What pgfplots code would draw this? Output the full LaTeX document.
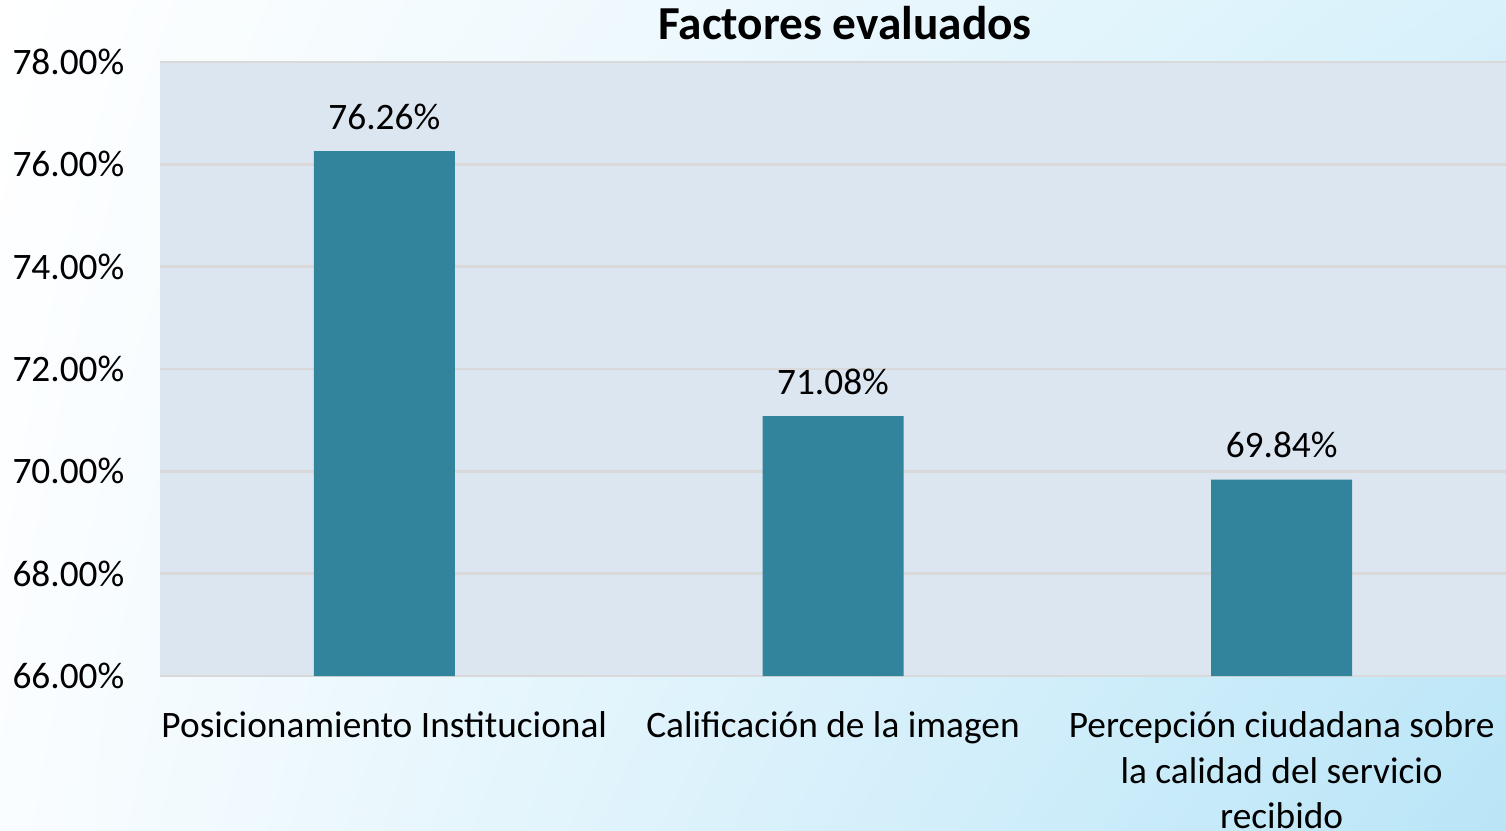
\documentclass[border=0pt]{standalone}
\usepackage{pgfplots}
\pgfplotsset{compat=1.18}
\usetikzlibrary{shadings}
\usepackage{fontspec}
\setmainfont{Carlito}

\definecolor{barcol}{HTML}{31849B}
\definecolor{plotbg}{HTML}{DCE6F1}
\definecolor{gridcol}{HTML}{D9D9D9}
\definecolor{bgul}{HTML}{FFFFFF}
\definecolor{bgll}{HTML}{FAFDFF}
\definecolor{bgur}{HTML}{D8F1FB}
\definecolor{bglr}{HTML}{B9E5F7}

\begin{document}
\begin{tikzpicture}[font=\fontsize{11.2}{13.6}\selectfont]
  % background of the whole chart (1 px = 0.3pt)
  \shade[upper left=bgul, lower left=bgll, upper right=bgur, lower right=bglr]
    (-48pt,-46.2pt) rectangle (403.8pt,202.8pt);

  \begin{axis}[
    name=ax,
    at={(0,0)}, anchor=south west,
    width=403.8pt, height=184.2pt, scale only axis,
    axis background/.style={fill=plotbg},
    axis line style={draw=none},
    ybar, bar width=42.3pt,
    xmin=-0.5, xmax=2.5,
    ymin=66, ymax=78,
    xtick={0,1,2},
    xticklabels={Posicionamiento Institucional, Calificación de la imagen,
      {Percepción ciudadana sobre\\la calidad del servicio\\recibido}},
    xticklabel style={align=center, anchor=north, inner sep=0pt, yshift=-10.6pt},
    ytick={66,68,70,72,74,76,78},
    yticklabels={66.00\%,68.00\%,70.00\%,72.00\%,74.00\%,76.00\%,78.00\%},
    yticklabel style={anchor=east, inner sep=0pt, xshift=-10.5pt},
    major tick length=0pt,
    ymajorgrids, major grid style={gridcol, line width=0.8pt},
    point meta=explicit symbolic,
    nodes near coords,
    nodes near coords style={anchor=south, inner sep=0pt, yshift=6.3pt, text=black},
  ]
  \addplot[fill=barcol, draw=none] table[meta=lab] {
    x  y      lab
    0  76.26  76.26\%
    1  71.08  71.08\%
    2  69.84  69.84\%
  };
  \end{axis}

  \node[font=\fontsize{14.2}{16}\selectfont\bfseries, anchor=base, inner sep=0pt]
    at ([xshift=3.6pt, yshift=6.6pt]ax.north) {Factores evaluados};

  \pgfresetboundingbox
  \useasboundingbox (-48pt,-46.2pt) rectangle (403.8pt,202.8pt);
\end{tikzpicture}
\end{document}
